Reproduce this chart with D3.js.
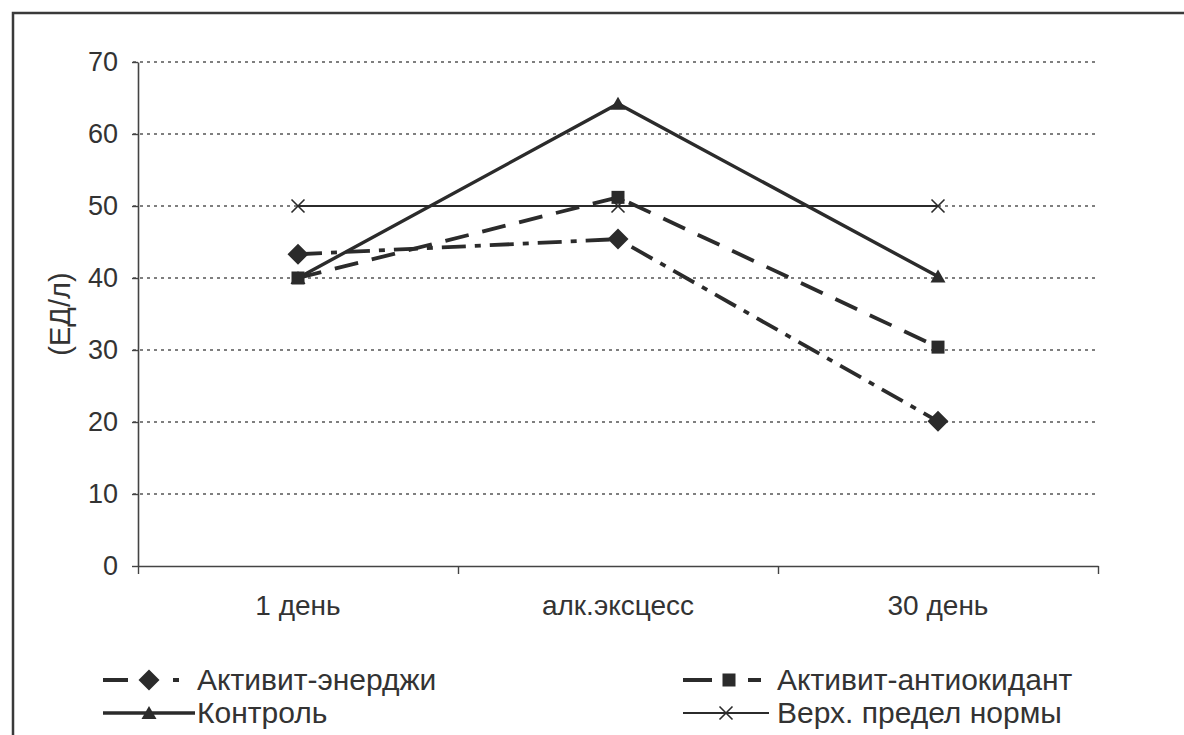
<!DOCTYPE html>
<html>
<head>
<meta charset="utf-8">
<script src="https://cdn.jsdelivr.net/npm/d3@7"></script>
<style>
  body { margin: 0; background: #fff; }
  text { font-family: "Liberation Sans", Arial, sans-serif; fill: #333; }
</style>
</head>
<body>
<svg id="chart" width="1184" height="735"></svg>
<script>
let width = 1184, height = 735;

// data
let categories = ["1 день", "алк.эксцесс", "30 день"];
let energy = [43.3, 45.4, 20.1];
let antiox = [40.0, 51.2, 30.4];
let control = [40.0, 64.2, 40.2];
let norm = [50, 50, 50];
let yTicks = [0, 10, 20, 30, 40, 50, 60, 70];
let seriesNames = ["Активит-энерджи", "Активит-антиокидант", "Контроль", "Верх. предел нормы"];

let lineColor = "#2b2b2b", gridColor = "#555", axisColor = "#444";
let margin = {left: 138, right: 1098, top: 62, bottom: 566};

let svg = d3.select("#chart");

svg.append("rect").attr("width", width).attr("height", height).attr("fill", "#fff");

// outer frame (only top and left are in the picture)
svg.append("path")
  .attr("d", `M13,${height} V13 H${width}`)
  .attr("fill", "none")
  .attr("stroke", "#3a3a3a")
  .attr("stroke-width", 2.5);

let x = d3.scaleBand().domain(categories).range([margin.left, margin.right]);
let y = d3.scaleLinear().domain([0, 70]).range([margin.bottom, margin.top]);
let cx = c => x(c) + x.bandwidth() / 2;

// dotted grid
svg.append("g")
  .selectAll("line")
  .data(yTicks.filter(d => d > 0))
  .enter()
  .append("line")
  .attr("x1", margin.left - 5)
  .attr("x2", margin.right)
  .attr("y1", d => y(d))
  .attr("y2", d => y(d))
  .attr("stroke", gridColor)
  .attr("stroke-width", 1.4)
  .attr("stroke-dasharray", "3,4");

// y axis
let yAxis = svg.append("g")
  .attr("transform", `translate(${margin.left},0)`)
  .call(d3.axisLeft(y).tickValues(yTicks).tickSize(6).tickSizeOuter(0).tickPadding(14));
yAxis.select(".domain").attr("stroke", axisColor).attr("stroke-width", 1.6);
yAxis.selectAll(".tick line").attr("stroke", axisColor).attr("stroke-width", 1.4);
yAxis.selectAll(".tick text")
  .style("font-size", "27px")
  .style("font-family", "'Liberation Sans', Arial, sans-serif")
  .attr("fill", "#333");

// x axis: ticks on band boundaries
let xb = d3.scaleLinear().domain([0, categories.length]).range([margin.left, margin.right]);
let xAxis = svg.append("g")
  .attr("transform", `translate(0,${margin.bottom})`)
  .call(d3.axisBottom(xb).ticks(categories.length).tickSize(8).tickSizeOuter(0).tickFormat(""));
xAxis.select(".domain").attr("stroke", axisColor).attr("stroke-width", 1.6);
xAxis.selectAll(".tick line").attr("stroke", axisColor).attr("stroke-width", 1.4);

svg.append("g")
  .selectAll("text")
  .data(categories)
  .enter()
  .append("text")
  .attr("x", d => cx(d))
  .attr("y", margin.bottom + 49)
  .attr("text-anchor", "middle")
  .style("font-size", "28px")
  .text(d => d);

// y title
svg.append("text")
  .attr("transform", `translate(70,${(margin.top + margin.bottom) / 2}) rotate(-90)`)
  .attr("text-anchor", "middle")
  .style("font-size", "29px")
  .text("(ЕД/л)");

// markers
let markers = {
  diamond: g => g.append("path").attr("d", "M0,-10.5L10.5,0L0,10.5L-10.5,0Z").attr("fill", lineColor),
  square: g => g.append("rect").attr("x", -6.5).attr("y", -6.5).attr("width", 13).attr("height", 13).attr("fill", lineColor),
  triangle: g => g.append("path").attr("d", "M0,-7L7.5,6L-7.5,6Z").attr("fill", lineColor),
  times: g => g.append("path").attr("d", "M-6.5,-6.5L6.5,6.5M-6.5,6.5L6.5,-6.5")
    .attr("stroke", lineColor).attr("stroke-width", 1.6).attr("fill", "none")
};

let series = [
  {name: seriesNames[3], values: norm, dash: null, w: 2.2, marker: "times"},
  {name: seriesNames[2], values: control, dash: null, w: 3.4, marker: "triangle"},
  {name: seriesNames[0], values: energy, dash: "24,9,6,9", w: 3.8, marker: "diamond"},
  {name: seriesNames[1], values: antiox, dash: "24,14", w: 3.8, marker: "square"}
];

let line = d3.line()
  .x((d, i) => cx(categories[i]))
  .y(d => y(d));

series.forEach(s => {
  svg.append("path")
    .datum(s.values)
    .attr("d", line)
    .attr("fill", "none")
    .attr("stroke", lineColor)
    .attr("stroke-width", s.w)
    .attr("stroke-dasharray", s.dash);
  s.values.forEach((v, i) => {
    let g = svg.append("g").attr("transform", `translate(${cx(categories[i])},${y(v)})`);
    markers[s.marker](g);
  });
});

// legend
let legendItems = [
  {name: seriesNames[0], x: 103, y: 680, dash: "25,45,6,30", w: 3.8, marker: "diamond", len: 92},
  {name: seriesNames[1], x: 683, y: 680, dash: "29,36,13,30", w: 3.8, marker: "square", len: 92},
  {name: seriesNames[2], x: 103, y: 713, dash: null, w: 3.4, marker: "triangle", len: 92},
  {name: seriesNames[3], x: 683, y: 713, dash: null, w: 2.2, marker: "times", len: 86}
];

legendItems.forEach(d => {
  let g = svg.append("g").attr("transform", `translate(${d.x},${d.y})`);
  g.append("line")
    .attr("x1", 0).attr("x2", d.len)
    .attr("stroke", lineColor)
    .attr("stroke-width", d.w)
    .attr("stroke-dasharray", d.dash);
  markers[d.marker](g.append("g").attr("transform", `translate(${d.len / 2},0)`));
  g.append("text")
    .attr("x", 94)
    .attr("y", 10)
    .style("font-size", "30px")
    .text(d.name);
});
</script>
</body>
</html>
